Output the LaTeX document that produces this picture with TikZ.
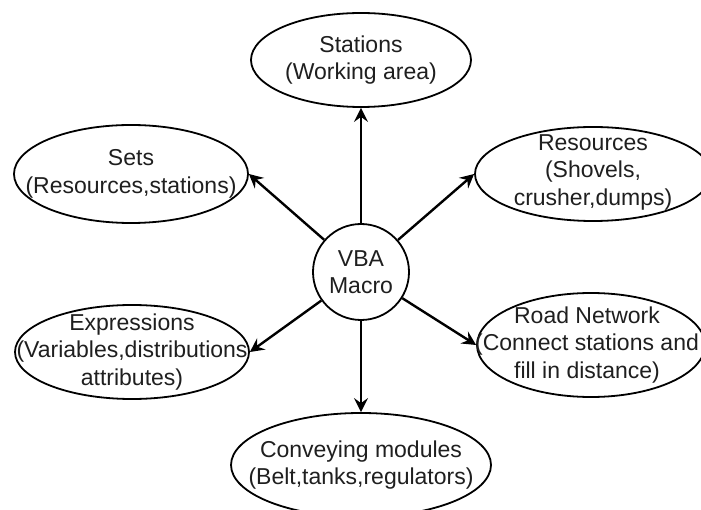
\documentclass[tikz,border=0pt]{standalone}
\usepackage{fontspec}
\setmainfont{Liberation Sans}
\usetikzlibrary{shapes.geometric,arrows.meta}
\begin{document}
\begin{tikzpicture}[x=1pt,y=-1pt,
  bubble/.style={draw=black, line width=1.8pt, ellipse, inner sep=0pt, fill=white},
  txt/.style={align=center, font=\fontsize{23}{27.5}\selectfont, text=black!88},
  link/.style={line width=2.4pt, -{Stealth[length=14pt,width=14pt,inset=5pt]}}
]
\path[use as bounding box, clip] (0,0) rectangle (701,510);

% outer ellipses
\node[bubble, minimum width=220pt, minimum height=94pt] (stations) at (361,60) {};
\node[bubble, minimum width=234pt, minimum height=98pt] (sets) at (131,174) {};
\node[bubble, minimum width=236pt, minimum height=94pt] (resources) at (593,174) {};
\node[bubble, minimum width=234pt, minimum height=94pt] (expr) at (132,352) {};
\node[bubble, minimum width=228pt, minimum height=104pt] (road) at (591,345) {};
\node[bubble, minimum width=260pt, minimum height=104pt] (convey) at (361,465) {};

% central node
\node[bubble, circle, minimum size=96pt] (macro) at (361,272) {};

% labels
\node[txt] at (stations) {Stations\\(Working area)};
\node[txt] at (sets) {Sets\\(Resources,stations)};
\node[txt] at ([yshift=2pt]resources.center) {Resources\\(Shovels,\\crusher,dumps)};
\node[txt] at (expr) {Expressions\\(Variables,distributions\\attributes)};
\node[txt] at ([xshift=-4pt]road.center) {Road Network\\(Connect stations and\\fill in distance)};
\node[txt] at (convey) {Conveying modules\\(Belt,tanks,regulators)};
\node[txt] at (macro) {VBA\\Macro};

% connectors
\draw[link] (macro) -- (stations.south);
\draw[link] (macro) -- (sets.east);
\draw[link] (macro) -- (resources.west);
\draw[link] (macro) -- (expr.east);
\draw[link] (macro) -- (road.west);
\draw[link] (macro) -- (convey.north);
\end{tikzpicture}
\end{document}
